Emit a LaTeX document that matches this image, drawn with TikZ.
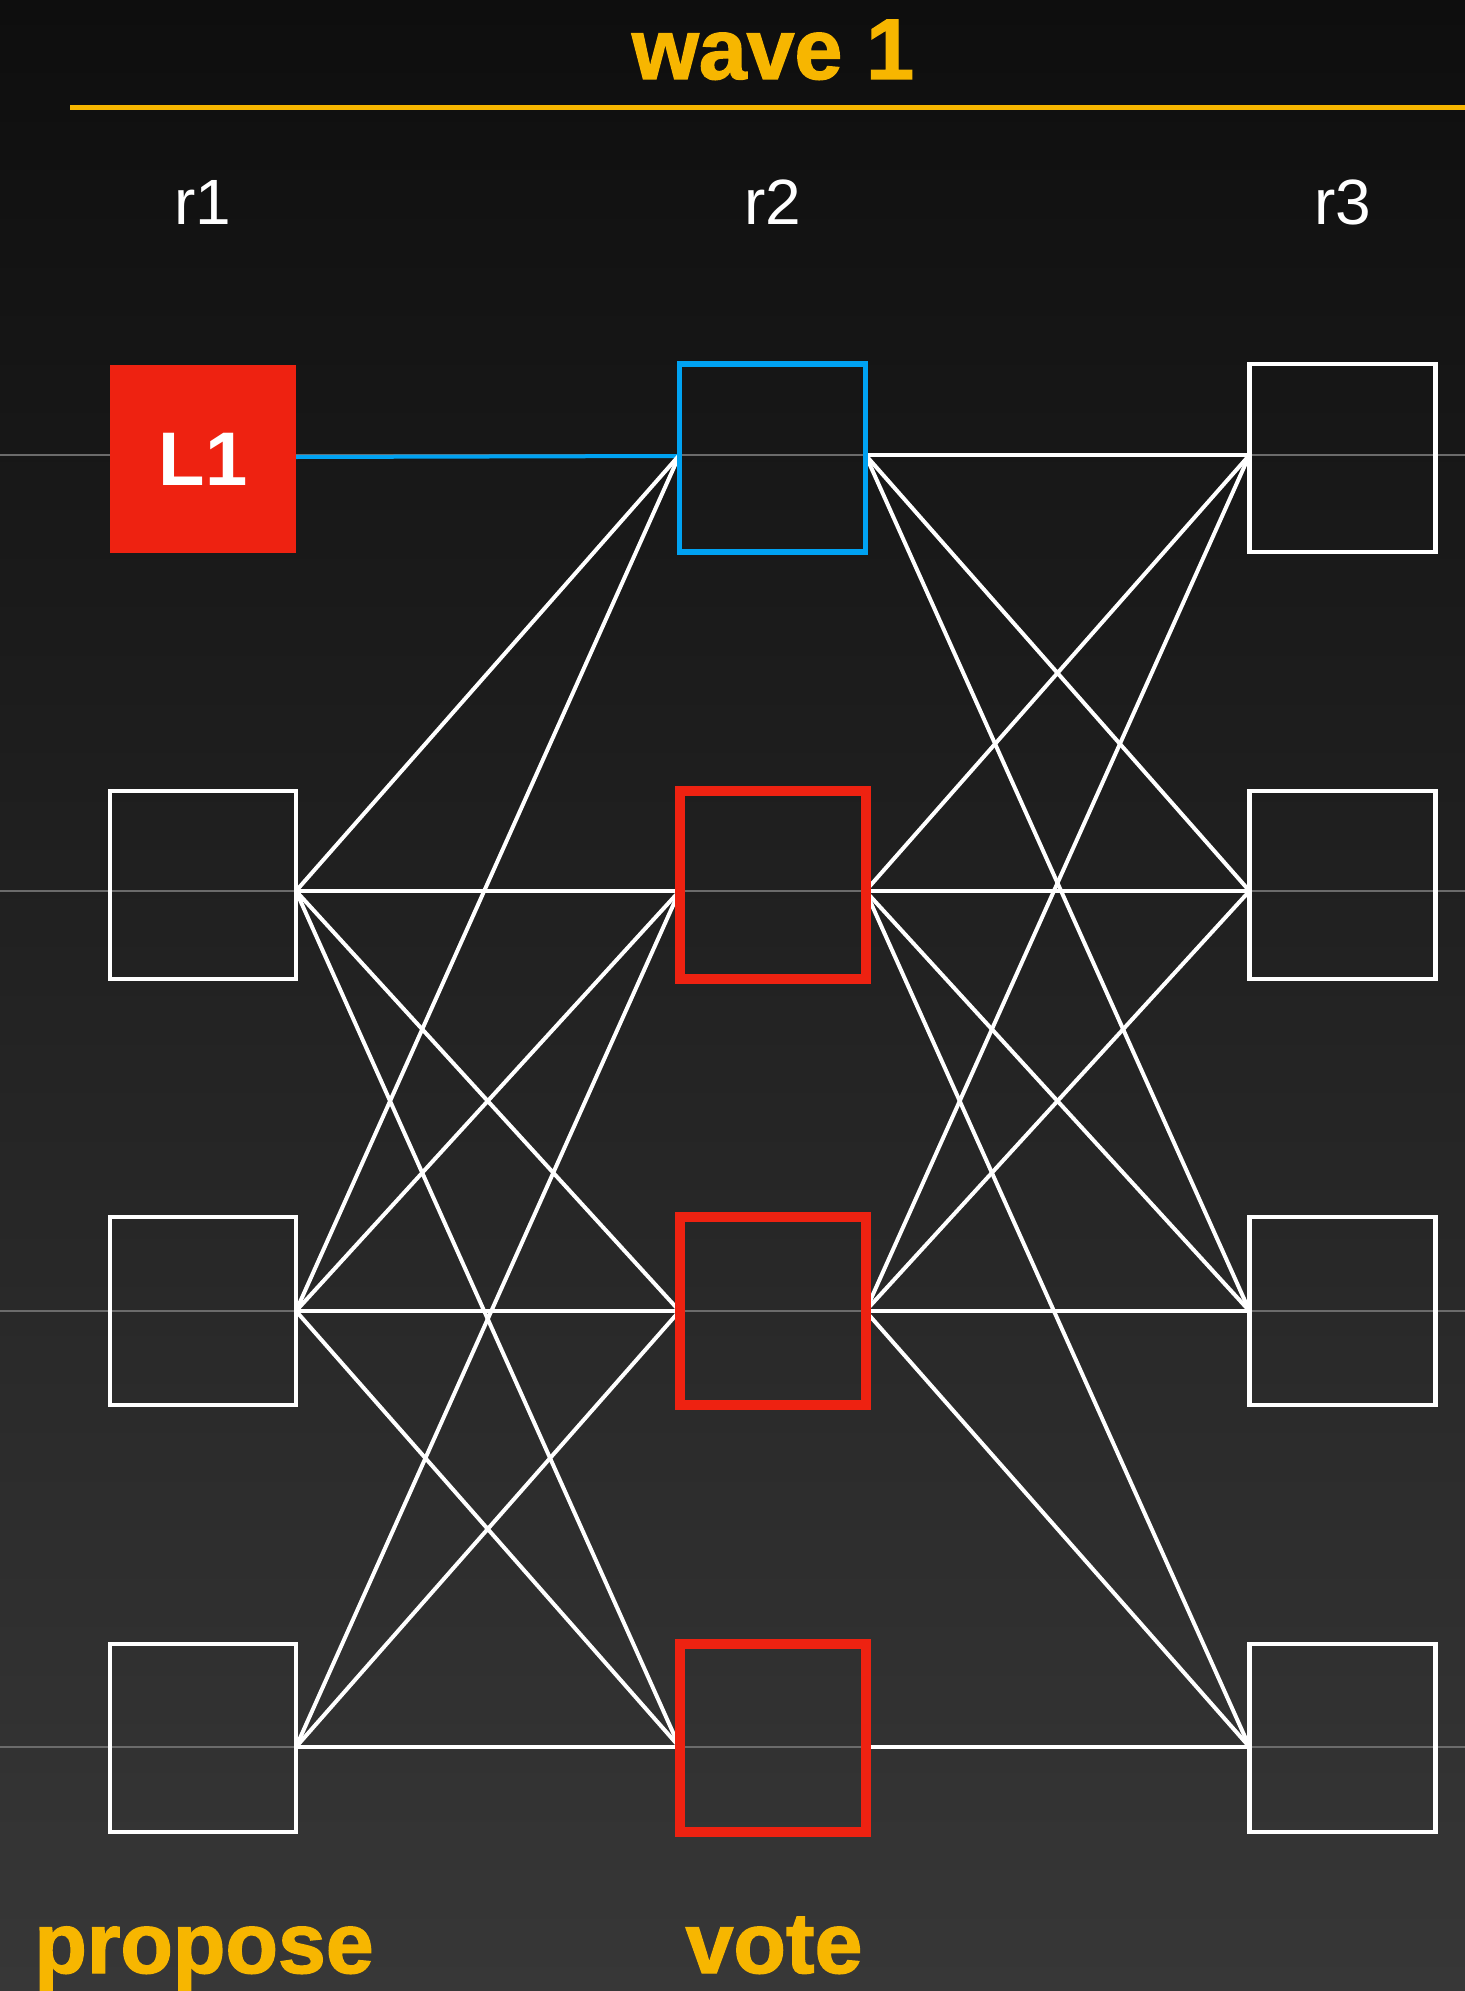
\documentclass[tikz,border=0pt]{standalone}
\usepackage{fontspec}
\setmainfont{Liberation Sans}
\newfontfamily\heavyfont{Liberation Sans}[BoldFeatures={FakeBold=1.6}]
\definecolor{bgtop}{HTML}{0E0E0E}
\definecolor{bgbot}{HTML}{373737}
\definecolor{ylw}{HTML}{F7B600}
\definecolor{redc}{HTML}{EE2211}
\definecolor{bluec}{HTML}{00A2F2}
\definecolor{greyl}{HTML}{6B6B6B}
\begin{document}
\begin{tikzpicture}[x=0.5pt,y=-0.5pt,
  vbox/.style={rectangle, minimum width=93pt, minimum height=94pt, inner sep=0pt, outer sep=0pt, draw=white, line width=2.2pt},
  redbox/.style={vbox, draw=redc, line width=5pt},
  bluebox/.style={vbox, draw=bluec, line width=2.6pt},
  leader/.style={vbox, fill=redc, draw=none, text=white, font=\fontsize{38}{38}\selectfont\bfseries},
  conn/.style={white, line width=2pt},
  bigtitle/.style={anchor=base, text=ylw, font=\fontsize{43}{43}\selectfont\heavyfont\bfseries, inner sep=0pt},
  rlabel/.style={anchor=base, text=white, font=\fontsize{32}{32}\selectfont, inner sep=0pt},
  rowline/.style={greyl, line width=1.2pt}]
\shade[top color=bgtop, bottom color=bgbot] (0,0) rectangle (1465,1991);
\useasboundingbox (0,0) rectangle (1465,1991);
% grey row lines
\foreach \yy in {455,891,1311,1747} \draw[rowline] (0,\yy) -- (1465,\yy);
% title and rule
\node[bigtitle] (title) at (773,79) {wave 1};
\draw[ylw, line width=2.5pt] (70,107.5) -- (1465,107.5);
% round labels
\node[rlabel] (r1) at (203,224) {r1};
\node[rlabel] (r2) at (772.5,224) {r2};
\node[rlabel] (r3) at (1342.5,224) {r3};
% boxes
\node[leader] (a1) at (203,459) {\raisebox{-2.5pt}{L1}};
\node[vbox] (a2) at (203,885) {};
\node[vbox] (a3) at (203,1311) {};
\node[vbox] (a4) at (203,1738) {};
\node[bluebox] (b1) at (772.5,458) {};
\node[redbox] (b2) at (772.5,885) {};
\node[redbox] (b3) at (772.5,1311) {};
\node[redbox] (b4) at (772.5,1738) {};
\node[vbox] (c1) at (1342.5,458) {};
\node[vbox] (c2) at (1342.5,885) {};
\node[vbox] (c3) at (1342.5,1311) {};
\node[vbox] (c4) at (1342.5,1738) {};
% connectors r1 -> r2
\draw[bluec, line width=2pt] ([yshift=1pt]a1.east) -- ([yshift=1pt]b1.west);
\foreach \i/\j in {2/1,2/2,2/3,2/4,3/1,3/2,3/3,3/4,4/2,4/3,4/4} {
  \pgfmathsetmacro\si{{1.5,-3,0,-4.5}[\i-1]}
  \pgfmathsetmacro\sj{{1.5,-3,0,-4.5}[\j-1]}
  \draw[conn] ([yshift=\si pt]a\i.east) -- ([yshift=\sj pt]b\j.west);
}
% connectors r2 -> r3
\foreach \i/\j in {1/1,1/2,1/3,2/1,2/2,2/3,2/4,3/1,3/2,3/3,3/4,4/4} {
  \pgfmathsetmacro\si{{1.5,-3,0,-4.5}[\i-1]}
  \pgfmathsetmacro\sj{{1.5,-3,0,-4.5}[\j-1]}
  \draw[conn] ([yshift=\si pt]b\i.east) -- ([yshift=\sj pt]c\j.west);
}
% redraw box borders on top
\node[bluebox] at (b1) {};
\node[redbox] at (b2) {};
\node[redbox] at (b3) {};
\node[redbox] at (b4) {};
% phase labels
\node[bigtitle] (propose) at (204,1973) {propose};
\node[bigtitle] (vote) at (774,1973) {vote};
\end{tikzpicture}
\end{document}
